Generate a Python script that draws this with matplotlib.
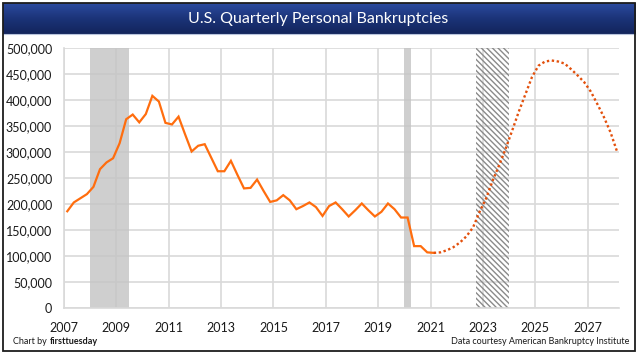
import matplotlib.pyplot as plt
import matplotlib.patches as mpatches
import matplotlib.ticker as mticker
import numpy as np

plt.rcParams['font.family'] = ['Lato', 'DejaVu Sans']
plt.rcParams['hatch.linewidth'] = 1.0

# quarterly data, first point = 2007 Q1
actual = [186, 203, 211, 219, 233, 267, 280, 288,
          317, 363, 372, 357, 373, 408, 397, 356,
          353, 368, 334, 301, 312, 315, 289, 263,
          263, 283, 256, 230, 231, 247, 225, 204,
          207, 217, 207, 190, 196, 203, 194, 177,
          196, 203, 190, 176, 188, 201, 188, 176,
          185, 201, 190, 174, 174, 119, 119, 107, 106]
forecast = [106, 107, 111, 117, 126, 138, 155, 185,
            211, 245, 275, 307, 342, 378, 411, 444,
            466, 474, 476, 474, 470, 459, 447, 434,
            416, 392, 367, 338, 301]
recessions = [(2008.0, 2009.5), (2020.0, 2020.25)]
forecast_band = (2022.75, 2024.0)
year_ticks = list(range(2007, 2028, 2))

x_act = 2007.125 + 0.25 * np.arange(len(actual))
x_fc = x_act[-1] + 0.25 * np.arange(len(forecast))

fig = plt.figure(figsize=(6.37, 3.54), dpi=100)
W, H = 637, 354

# outer frame and title banner
bg = fig.add_axes([0, 0, 1, 1])
bg.set_xlim(0, W)
bg.set_ylim(H, 0)
bg.axis('off')
grad = np.linspace(0, 1, 50).reshape(-1, 1)
cmap = plt.matplotlib.colors.LinearSegmentedColormap.from_list('b', ['#2b4a9e', '#1b3378', '#13255c'])
bg.imshow(grad, extent=[2.5, 635, 34, 3], aspect='auto', cmap=cmap, zorder=1)
bg.add_patch(mpatches.Rectangle((2.5, 3), 632.5, 348, fill=False, ec='#1c1c1c', lw=1.3, zorder=3))
bg.plot([2.5, 635], [34, 34], color='#b8c4dc', lw=0.8, zorder=2)
bg.text(318, 19, 'U.S. Quarterly Personal Bankruptcies', color='white', fontsize=11.5,
        ha='center', va='center', zorder=4)
t1 = bg.text(13, 342, 'Chart by', fontsize=6.5, ha='left', va='center', color='#1a1a1a')
bg.text(629, 342, 'Data courtesy American Bankruptcy Institute', fontsize=6.5,
        ha='right', va='center', color='#1a1a1a')
fig.canvas.draw()
ext = t1.get_window_extent()
bg.text(ext.x1 + 3, 342, 'firsttuesday', fontsize=6.5, fontweight='bold',
        ha='left', va='center', color='#1a1a1a')

ax = fig.add_axes([64 / W, 1 - 308 / H, (619 - 64) / W, (308 - 48) / H])
ax.set_xlim(2007, 2028.2)
ax.set_ylim(0, 500)

for a, b in recessions:
    ax.axvspan(a, b, color='#c4c4c4', alpha=0.8, lw=0, zorder=1)
ax.axvspan(*forecast_band, facecolor='none', edgecolor='#8a8a8a', hatch='\\\\\\\\\\\\', lw=0, zorder=1)

ax.plot(x_act, actual, color='#ff6d0e', lw=1.6, zorder=3, solid_joinstyle='miter')
ax.plot(x_fc, forecast, color='#e3500c', lw=1.7, linestyle=(0, (1, 1.1)), zorder=3)

ax.set_yticks(np.arange(0, 501, 50))
ax.yaxis.set_major_formatter(mticker.FuncFormatter(lambda v, p: f'{int(v * 1000):,}'))
ax.set_xticks(year_ticks)
ax.grid(True, color='#d9d9d9', lw=1.2, zorder=0)
ax.set_axisbelow(True)
for s in ['top', 'right']:
    ax.spines[s].set_visible(False)
ax.spines['left'].set_color('#d9d9d9')
ax.spines['bottom'].set_color('#d9d9d9')
ax.spines['left'].set_linewidth(1.2)
ax.spines['bottom'].set_linewidth(1.2)
ax.tick_params(length=0, labelsize=9, colors='#1a1a1a')
ax.tick_params(axis='x', pad=10)
ax.tick_params(axis='y', pad=8.5)

fig.savefig('out.png', dpi=100)
